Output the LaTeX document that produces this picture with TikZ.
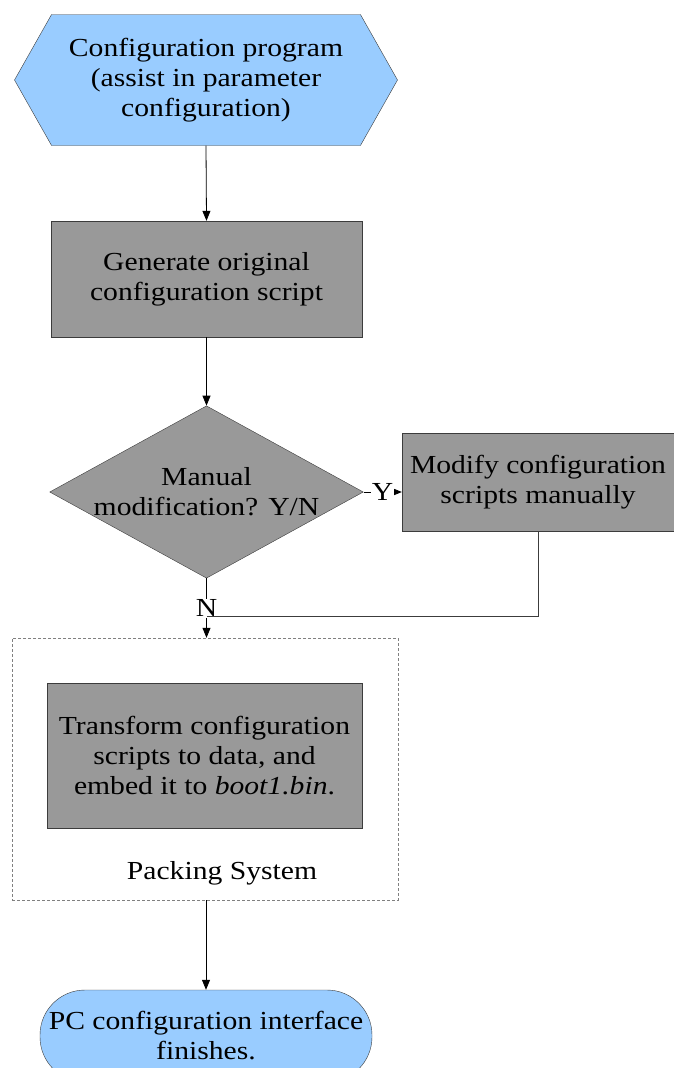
\documentclass[tikz,border=0pt]{standalone}
\usepackage{fontspec}
\setmainfont{Liberation Serif}[FakeStretch=1.14]
\usepackage{tikz}
\usetikzlibrary{arrows.meta,shapes.geometric,shapes.symbols,calc}
\definecolor{startblue}{RGB}{153,204,255}
\definecolor{stepgray}{RGB}{153,153,153}
\definecolor{edgegray}{RGB}{60,60,60}

\begin{document}
\begin{tikzpicture}[x=1pt,y=-1pt,
  font=\fontsize{26}{30}\selectfont, >={Triangle[length=10pt,width=8pt]},
  hexa/.style={signal,signal to=west and east,signal pointer angle=121,draw=edgegray,
    fill=startblue,minimum width=383,minimum height=131,inner sep=0pt,align=center},
  stepbox/.style={draw=edgegray,fill=stepgray,inner sep=0pt,align=center},
  decide/.style={diamond,draw=edgegray,fill=stepgray,inner sep=0pt,align=center,
    shape aspect=1.82,minimum width=307,minimum height=169},
  packbox/.style={draw=gray,dash pattern=on 3pt off 2pt,minimum width=386,minimum height=262},
  term/.style={draw=edgegray,fill=startblue,rounded corners=45pt,minimum width=332,
    minimum height=92,inner sep=0pt,align=center},
  flow/.style={->,line width=0.8pt},
  link/.style={line width=0.8pt,draw=edgegray}]
\useasboundingbox (0,0) rectangle (674,1068);
\clip (0,0) rectangle (674,1068);
\node[hexa] (conf) at (206,80) {Configuration program\\(assist in parameter\\configuration)};
\node[stepbox,minimum width=311,minimum height=116] (gen) at (206.5,279)
  {Generate original\\configuration script};
\node[decide] (manual) at (206.5,492) {Manual\\modification? Y/N};
\node[stepbox,minimum width=272,minimum height=98] (modify) at (538,482)
  {Modify configuration\\scripts manually};
\node[packbox] (pack) at (205,769) {};
\node[stepbox,minimum width=315,minimum height=145] (trans) at (204.5,755.5)
  {Transform configuration\\scripts to data, and\\embed it to \textit{boot1.bin}.};
\node (packlbl) at (222,873) {Packing System};
\node[term] (done) at (206,1036) {PC configuration interface\\finishes.};
\coordinate (join) at (206.5,616);
% connectors
\draw[flow] (conf.south) -- (gen.north);
\draw[flow] (gen.south) -- (manual.north);
\draw[flow] (manual.east) -- node[fill=white,inner sep=1pt]{Y} (modify.west |- manual.east);
\draw[flow] (manual.south) -- node[pos=0.5,fill=white,inner sep=1pt]{N} (pack.north -| manual.south);
\draw[link] (modify.south) |- (join);
\draw[flow] (pack.south -| done.north) -- (done.north);
\end{tikzpicture}
\end{document}
